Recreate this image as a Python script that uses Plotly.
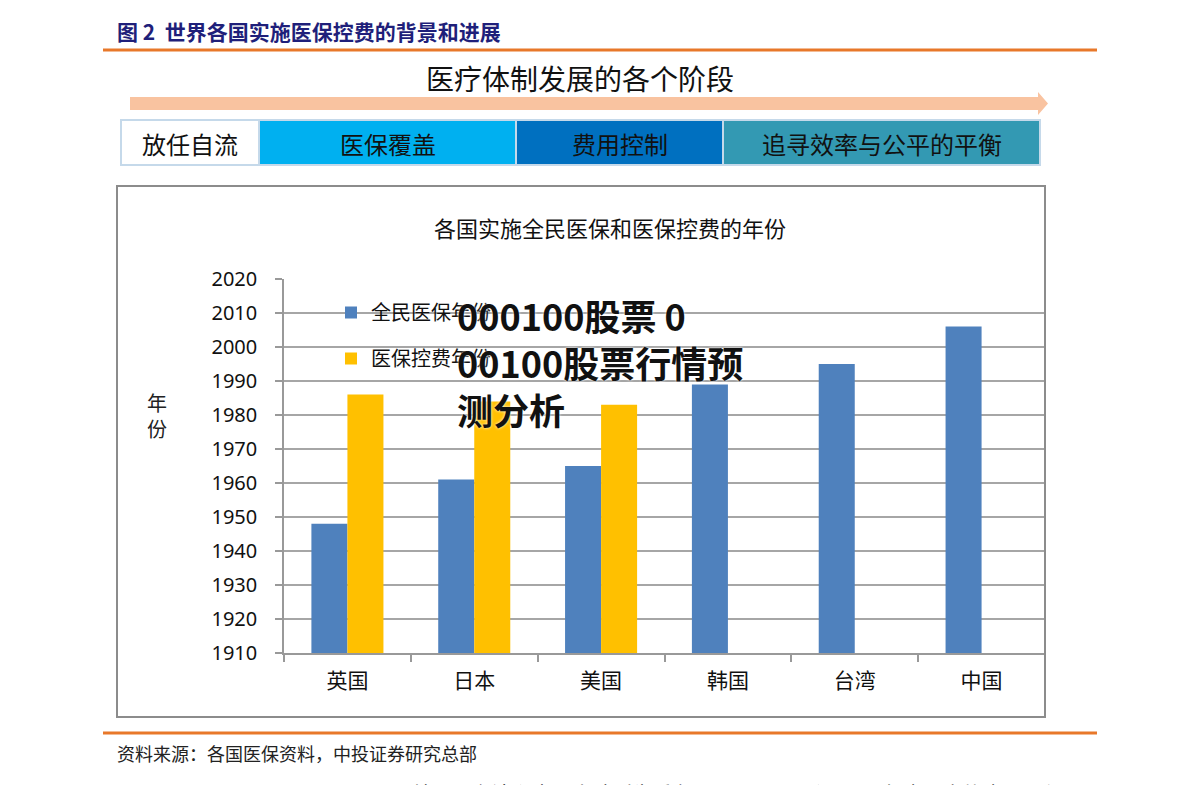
import plotly.graph_objects as go

# ---- data ----
categories = ["英国", "日本", "美国", "韩国", "台湾", "中国"]
coverage_years = [1948, 1961, 1965, 1989, 1995, 2006]
cost_control_years = [1986, 1984, 1983, None, None, None]
series_names = ["全民医保年份", "医保控费年份"]
y_ticks = [1910, 1920, 1930, 1940, 1950, 1960, 1970, 1980, 1990, 2000, 2010, 2020]
stage_labels = ["放任自流", "医保覆盖", "费用控制", "追寻效率与公平的平衡"]

W, H = 1191, 785
L, R, T, B = 284, 1045, 279, 653

def px(x):
    return (x - L) / (R - L)

def py(y):
    return (B - y) / (B - T)

CJK = "Noto Sans CJK SC"
NUM = "Noto Sans, Noto Sans CJK SC"

fig = go.Figure()
fig.add_trace(go.Bar(x=categories, y=coverage_years, name=series_names[0],
                     marker=dict(color="#4F81BD", line=dict(width=0)), legendgroup="a"))
fig.add_trace(go.Bar(x=categories, y=cost_control_years, name=series_names[1],
                     marker=dict(color="#FFC000", line=dict(width=0)), legendgroup="b"))

shapes = []
annotations = []

# header
annotations.append(dict(text="<b>图 2  世界各国实施医保控费的背景和进展</b>", x=px(115), y=py(31),
                        xref="paper", yref="paper", xanchor="left", yanchor="middle", showarrow=False,
                        font=dict(family=CJK, size=21, color="#1F1F7A")))
shapes.append(dict(type="line", xref="paper", yref="paper", x0=px(103), x1=px(1097), y0=py(50), y1=py(50),
                   line=dict(color="#E8782A", width=3)))

annotations.append(dict(text="医疗体制发展的各个阶段", x=px(580), y=py(78), xref="paper", yref="paper",
                        xanchor="center", yanchor="middle", showarrow=False,
                        font=dict(family=CJK, size=28, color="#111111")))

# arrow
ax0, ax1, ah = 130, 1038, 1048
path = (f"M {px(ax0)} {py(97)} L {px(ax1)} {py(97)} L {px(ax1)} {py(92)} L {px(ah)} {py(103.5)} "
        f"L {px(ax1)} {py(115)} L {px(ax1)} {py(110)} L {px(ax0)} {py(110)} Z")
shapes.append(dict(type="path", xref="paper", yref="paper", path=path,
                   fillcolor="#F9C3A0", line=dict(width=0)))

# stage boxes
box_edges = [121, 259, 516, 723, 1040]
box_colors = ["#FFFFFF", "#00B0F0", "#0070C0", "#3399B3"]
for i, lab in enumerate(stage_labels):
    x0, x1 = box_edges[i], box_edges[i + 1]
    shapes.append(dict(type="rect", xref="paper", yref="paper", x0=px(x0), x1=px(x1), y0=py(165), y1=py(120),
                       fillcolor=box_colors[i], line=dict(color="#C5D9EA", width=2)))
    annotations.append(dict(text=lab, x=px((x0 + x1) / 2), y=py(144), xref="paper", yref="paper",
                            xanchor="center", yanchor="middle", showarrow=False,
                            font=dict(family=CJK, size=24, color="#111111")))

# chart frame
shapes.append(dict(type="rect", xref="paper", yref="paper", x0=px(117), x1=px(1045), y0=py(717), y1=py(186),
                   line=dict(color="#8C8C8C", width=2), fillcolor="rgba(0,0,0,0)", layer="above"))

annotations.append(dict(text="各国实施全民医保和医保控费的年份", x=px(610), y=py(227), xref="paper", yref="paper",
                        xanchor="center", yanchor="middle", showarrow=False,
                        font=dict(family=CJK, size=22, color="#111111")))

annotations.append(dict(text="年<br>份", x=px(157), y=py(415), xref="paper", yref="paper",
                        xanchor="center", yanchor="middle", showarrow=False,
                        font=dict(family=CJK, size=20, color="#222222")))

# watermark
annotations.append(dict(text="<b>000100股票 0<br>00100股票行情预<br>测分析</b>", x=px(455), y=py(362),
                        xref="paper", yref="paper", xanchor="left", yanchor="middle", align="left",
                        showarrow=False,
                        font=dict(family=CJK, size=36, color="#111111", shadow="0px 0px 3px white")))

# footer
shapes.append(dict(type="line", xref="paper", yref="paper", x0=px(103), x1=px(1097), y0=py(733), y1=py(733),
                   line=dict(color="#E8782A", width=3)))
annotations.append(dict(text="资料来源：各国医保资料，中投证券研究总部", x=px(115), y=py(753), xref="paper", yref="paper",
                        xanchor="left", yanchor="middle", showarrow=False,
                        font=dict(family=CJK, size=18, color="#222222")))
annotations.append(dict(text="韩国、台湾和中国大陆则先后在 1989、1995 和 2000 年全面实施全民医保",
                        x=px(410), y=py(777), xref="paper", yref="paper",
                        xanchor="left", yanchor="top", showarrow=False,
                        font=dict(family=CJK, size=20, color="#333333")))

fig.update_layout(
    width=W, height=H,
    margin=dict(l=L, r=W - R, t=T, b=H - B, pad=0),
    paper_bgcolor="white", plot_bgcolor="white",
    barmode="group", bargap=0.432, bargroupgap=0,
    showlegend=True,
    legend=dict(x=px(331), y=py(293), xanchor="left", yanchor="top", bgcolor="rgba(0,0,0,0)",
                font=dict(family=CJK, size=20, color="#111111"), tracegroupgap=17,
                itemwidth=30),
    shapes=shapes, annotations=annotations,
    xaxis=dict(showgrid=False, showline=True, linecolor="#999999", linewidth=1.5,
               ticks="outside", tickson="boundaries", ticklen=7, tickcolor="#999999", tickwidth=1.5,
               tickfont=dict(family=CJK, size=21, color="#111111"), ticklabelstandoff=8),
    yaxis=dict(range=[1910, 2020], tickvals=y_ticks, showgrid=True, gridcolor="#A6A6A6", gridwidth=1.5,
               showline=True, linecolor="#999999", linewidth=1.5, zeroline=False,
               ticks="outside", ticklen=7, tickcolor="#999999", tickwidth=1.5,
               tickfont=dict(family=NUM, size=20, color="#111111"), ticklabelstandoff=14),
)

fig.write_html("out.html")
